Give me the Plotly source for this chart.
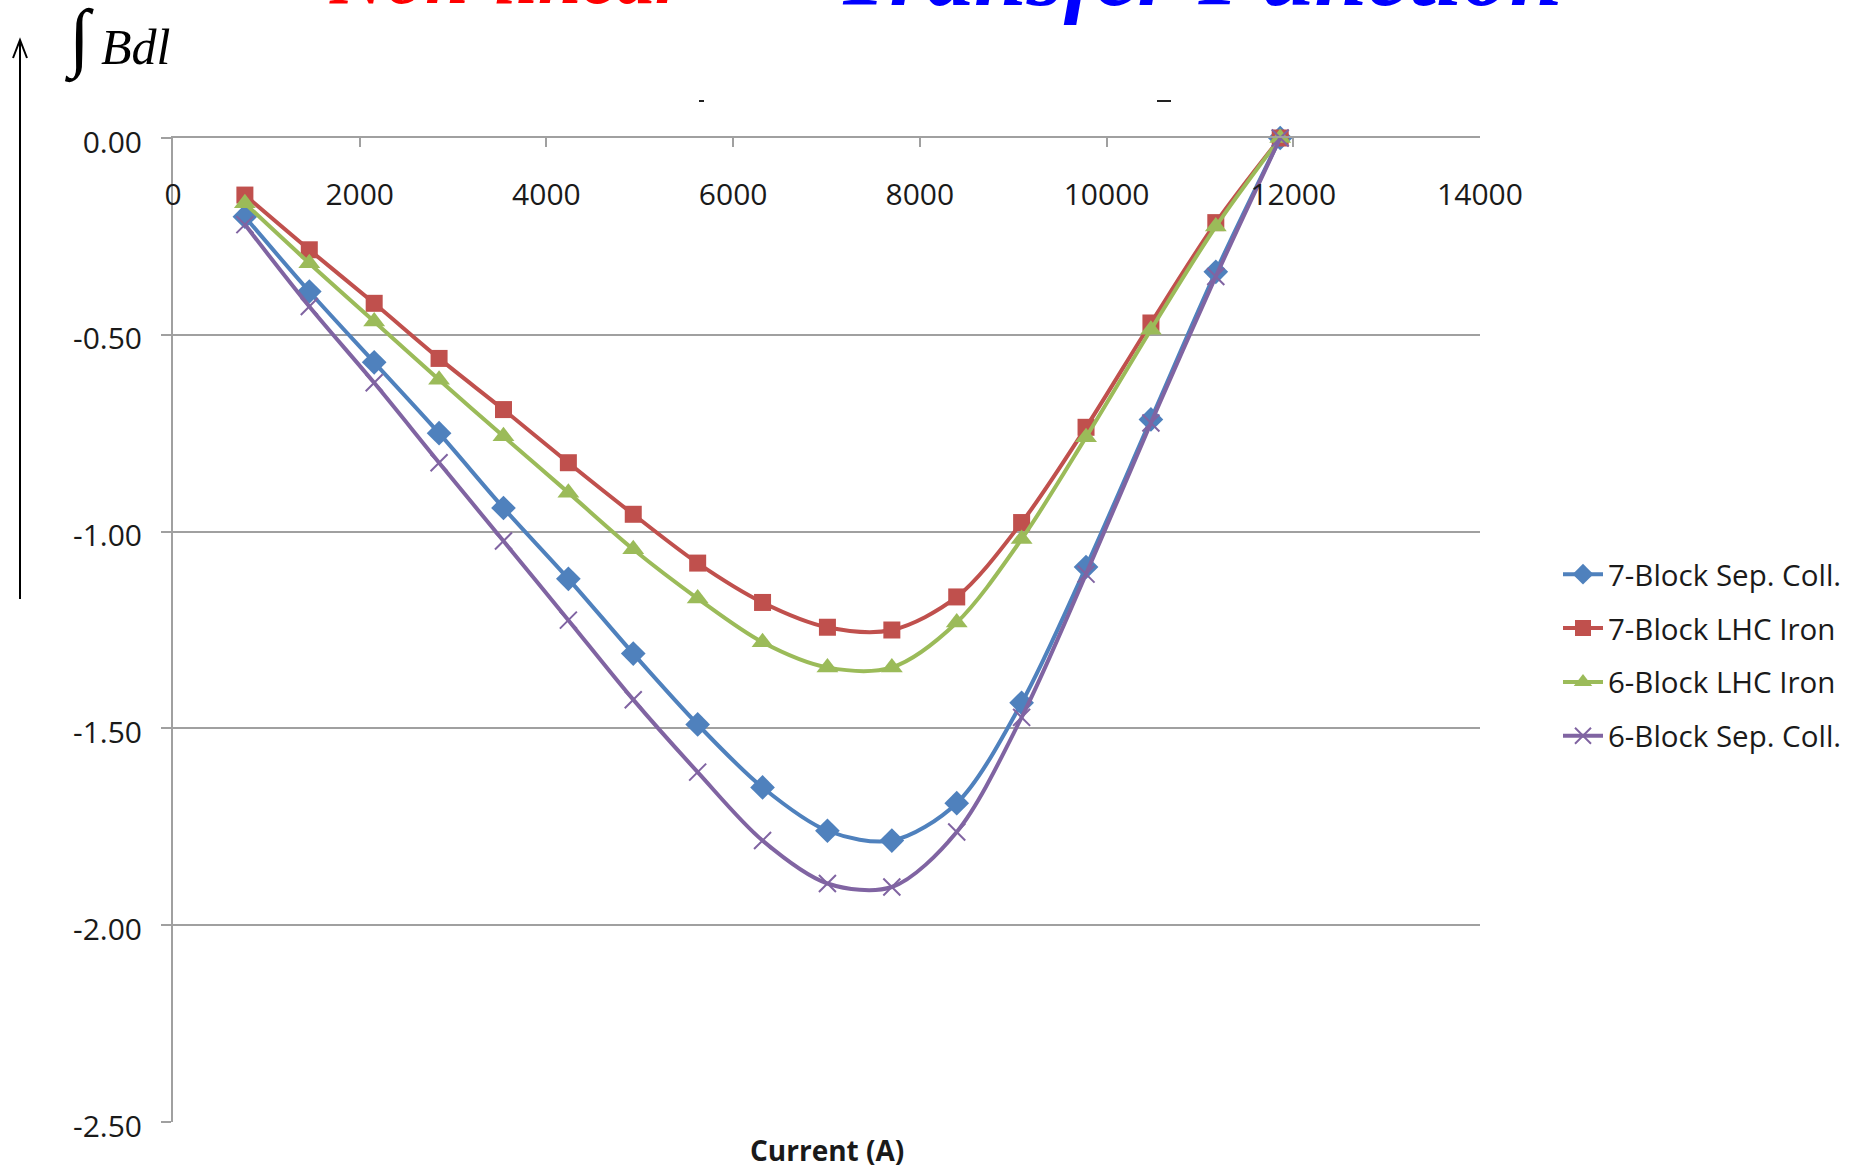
import plotly.graph_objects as go

# ---------------- data ----------------
current = [770, 1460, 2155, 2850, 3540, 4235, 4930, 5620, 6315,
           7010, 7700, 8395, 9090, 9780, 10475, 11170, 11860]

block7_sep = [-0.20, -0.39, -0.57, -0.75, -0.94, -1.12, -1.31, -1.49, -1.65,
              -1.76, -1.785, -1.69, -1.435, -1.09, -0.715, -0.34, 0.0]
block7_lhc = [-0.145, -0.284, -0.42, -0.56, -0.69, -0.825, -0.956, -1.08, -1.18,
              -1.243, -1.25, -1.166, -0.977, -0.735, -0.47, -0.215, 0.0]
block6_lhc = [-0.166, -0.318, -0.466, -0.614, -0.758, -0.901, -1.045, -1.17, -1.281,
              -1.345, -1.345, -1.231, -1.019, -0.76, -0.487, -0.225, 0.0]
block6_sep = [-0.22, -0.428, -0.622, -0.825, -1.024, -1.225, -1.427, -1.611, -1.785,
              -1.894, -1.903, -1.763, -1.472, -1.108, -0.724, -0.352, 0.0]

series_names = ["7-Block Sep. Coll.", "7-Block LHC Iron", "6-Block LHC Iron", "6-Block Sep. Coll."]
series_values = [block7_sep, block7_lhc, block6_lhc, block6_sep]
series_colors = ["#4F81BD", "#C0504D", "#9BBB59", "#8064A2"]
series_symbols = ["diamond", "square", "triangle-up", "x-thin"]

x_ticks = [0, 2000, 4000, 6000, 8000, 10000, 12000, 14000]
x_tick_labels = ["0", "2000", "4000", "6000", "8000", "10000", "12000", "14000"]
y_ticks = [0.0, -0.5, -1.0, -1.5, -2.0, -2.5]
y_tick_labels = ["0.00", "-0.50", "-1.00", "-1.50", "-2.00", "-2.50"]

x_title = "Current (A)"
title_red = "Non-linear"
title_blue = "Transfer Function"

# ---------------- layout geometry (pixels) ----------------
W, H = 1859, 1167
L, R, T, B = 173, 1480, 138, 1122


def pxx(xp):
    return (xp - L) / (R - L)


def pxy(yp):
    return (B - yp) / (B - T)


FONT = "Open Sans"
TXT = "#1a1a1a"
GRID = "#a0a0a0"

fig = go.Figure()
sizes = [19, 17, 19, 17]
for name, vals, col, sym, sz in zip(series_names, series_values, series_colors, series_symbols, sizes):
    fig.add_trace(go.Scatter(
        x=current, y=vals, name=name, mode="lines+markers",
        line=dict(color=col, width=4, shape="spline", smoothing=0.9),
        marker=dict(symbol=sym, size=sz, color=col,
                    line=dict(color=col, width=2 if sym == "x-thin" else 0)),
        cliponaxis=False, legendgroup=name,
    ))

fig.update_layout(
    width=W, height=H,
    margin=dict(l=L, r=W - R, t=T, b=H - B, autoexpand=False),
    paper_bgcolor="white", plot_bgcolor="white",
    font=dict(family=FONT, size=28, color=TXT),
    showlegend=True,
    legend=dict(x=pxx(1558), y=pxy(655), xanchor="left", yanchor="middle",
                font=dict(family=FONT, size=29.5, color=TXT),
                tracegroupgap=12.5, itemwidth=40, bgcolor="rgba(0,0,0,0)"),
    xaxis=dict(range=[0, 14000], side="top", tickvals=x_ticks, ticktext=x_tick_labels,
               ticks="inside", ticklen=9, tickwidth=2, tickcolor=GRID,
               showline=True, linecolor=GRID, linewidth=2, showgrid=False, zeroline=False,
               ticklabelposition="inside", ticklabeloverflow="allow", ticklabelstandoff=40,
               tickfont=dict(family=FONT, size=30, color=TXT)),
    yaxis=dict(range=[-2.5, 0], tickvals=y_ticks, ticktext=y_tick_labels,
               ticks="outside", ticklen=10, tickwidth=2, tickcolor=GRID,
               showline=True, linecolor=GRID, linewidth=2,
               showgrid=True, gridcolor=GRID, gridwidth=2, zeroline=False,
               ticklabelstandoff=13, ticklabelshift=4,
               tickfont=dict(family=FONT, size=30, color=TXT)),
)

annotations = [
    dict(text="<b>" + x_title + "</b>", xref="paper", yref="paper", x=0.5, y=pxy(1150),
         xanchor="center", yanchor="middle", showarrow=False, borderpad=0,
         font=dict(family=FONT, size=28, color=TXT)),
    dict(text="∫", xref="paper", yref="paper", x=pxx(79), y=pxy(38),
         xanchor="center", yanchor="middle", showarrow=False, borderpad=0,
         font=dict(family="Liberation Serif", size=76, color="black")),
    dict(text="<i>Bdl</i>", xref="paper", yref="paper", x=pxx(99), y=pxy(47),
         xanchor="left", yanchor="middle", showarrow=False,
         font=dict(family="Liberation Serif", size=50, color="black")),
    dict(text="<b><i>" + title_red + "</i></b>", xref="paper", yref="paper", x=pxx(507), y=pxy(-24),
         xanchor="center", yanchor="middle", showarrow=False,
         font=dict(family="Liberation Serif", size=78, color="#ff0000")),
    dict(text="<b><i>" + title_blue + "</i></b>", xref="paper", yref="paper", x=pxx(1199), y=pxy(-27),
         xanchor="center", yanchor="middle", showarrow=False,
         font=dict(family="Liberation Serif", size=95, color="#0000ff")),
]
fig.update_layout(annotations=annotations)

# up arrow on the left
ax = pxx(20)
arrow_path = (f"M {ax},{pxy(599)} L {ax},{pxy(40)} "
              f"M {pxx(13)},{pxy(58)} L {ax},{pxy(40)} L {pxx(27)},{pxy(58)}")
fig.add_shape(type="path", path=arrow_path, xref="paper", yref="paper",
              line=dict(color="black", width=2))
# two tiny residual dashes near the top
fig.add_shape(type="line", xref="paper", yref="paper", x0=pxx(699), x1=pxx(704),
              y0=pxy(101), y1=pxy(101), line=dict(color="#222", width=2))
fig.add_shape(type="line", xref="paper", yref="paper", x0=pxx(1157), x1=pxx(1171),
              y0=pxy(101), y1=pxy(101), line=dict(color="#222", width=2))

fig.write_html("out.html")
